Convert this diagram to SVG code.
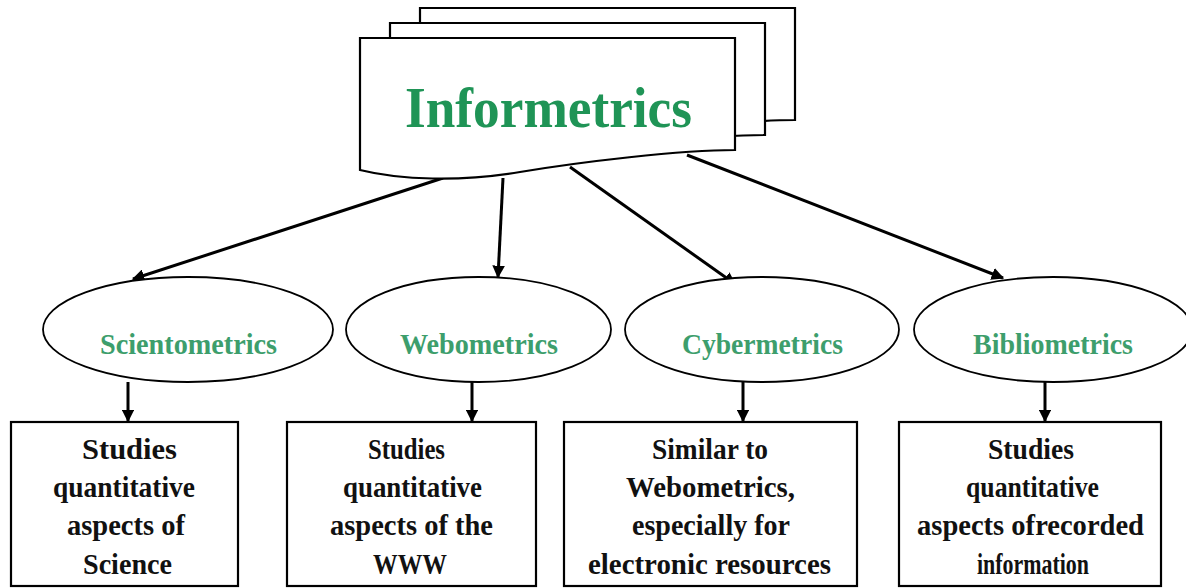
<svg xmlns="http://www.w3.org/2000/svg" width="1186" height="588" viewBox="0 0 1186 588">
<style>
.page{fill:#ffffff;stroke:#000;stroke-width:2.2}
.ell{fill:#ffffff;stroke:#000;stroke-width:1.8}
.box{fill:#ffffff;stroke:#000;stroke-width:2.2}
.lbl{font-family:"Liberation Serif",serif;font-weight:bold;font-size:29px;fill:#3d9e6c;text-anchor:middle}
.main{font-family:"Liberation Serif",serif;font-weight:bold;font-size:57px;fill:#1f9456;text-anchor:middle}
.txt{font-family:"Liberation Serif",serif;font-weight:bold;font-size:29px;fill:#111;text-anchor:middle}
.arr{fill:none;stroke:#000;stroke-width:3;marker-end:url(#ah)}
</style>
<defs>
<marker id="ah" viewBox="0 0 10 10" refX="9" refY="5" markerWidth="4.2" markerHeight="4.2" orient="auto" markerUnits="strokeWidth">
<path d="M0,0 L10,5 L0,10 Z" fill="#000"/>
</marker>
<path id="doc" d="M360,38 H735 V150 C680,150 580,162 520,172 C460,182 400,180 360,170 Z"/>
</defs>
<rect width="1186" height="588" fill="#ffffff"/>

<g id="connectors">
<path class="arr" d="M443,178 L133,279"/>
<path class="arr" d="M503,178 L498,277"/>
<path class="arr" d="M570,167 L735,284"/>
<path class="arr" d="M687,155 L1003,278"/>
<path class="arr" d="M128,382 L128,421"/>
<path class="arr" d="M472,382 L472,421"/>
<path class="arr" d="M743,382 L743,421"/>
<path class="arr" d="M1045,382 L1045,421"/>
</g>

<g id="informetrics">
<use href="#doc" class="page" transform="translate(60,-30)"/>
<use href="#doc" class="page" transform="translate(30,-15)"/>
<use href="#doc" class="page"/>
<text class="main" x="548.5" y="127" textLength="287" lengthAdjust="spacingAndGlyphs">Informetrics</text>
</g>

<g id="scientometrics">
<ellipse class="ell" cx="188" cy="329.5" rx="145" ry="52.5"/>
<text class="lbl" x="188.5" y="354" textLength="177" lengthAdjust="spacingAndGlyphs">Scientometrics</text>
</g>
<g id="webometrics">
<ellipse class="ell" cx="478.5" cy="329.5" rx="132.5" ry="52.5"/>
<text class="lbl" x="479" y="354" textLength="158" lengthAdjust="spacingAndGlyphs">Webometrics</text>
</g>
<g id="cybermetrics">
<ellipse class="ell" cx="762" cy="329.5" rx="137" ry="52.5"/>
<text class="lbl" x="762.5" y="354" textLength="161" lengthAdjust="spacingAndGlyphs">Cybermetrics</text>
</g>
<g id="bibliometrics">
<ellipse class="ell" cx="1053" cy="329.5" rx="139" ry="52.5"/>
<text class="lbl" x="1053" y="354" textLength="160" lengthAdjust="spacingAndGlyphs">Bibliometrics</text>
</g>

<g id="box-science">
<rect class="box" x="11" y="422" width="227" height="164"/>
<text class="txt" x="129.5" y="459" textLength="95" lengthAdjust="spacingAndGlyphs">Studies</text>
<text class="txt" x="124" y="497" textLength="142" lengthAdjust="spacingAndGlyphs">quantitative</text>
<text class="txt" x="126" y="535" textLength="118" lengthAdjust="spacingAndGlyphs">aspects of</text>
<text class="txt" x="127.5" y="574" textLength="89" lengthAdjust="spacingAndGlyphs">Science</text>
</g>
<g id="box-www">
<rect class="box" x="287" y="422" width="249" height="164"/>
<text class="txt" x="406.5" y="459" textLength="77" lengthAdjust="spacingAndGlyphs">Studies</text>
<text class="txt" x="412.5" y="497" textLength="139" lengthAdjust="spacingAndGlyphs">quantitative</text>
<text class="txt" x="411.5" y="535" textLength="163" lengthAdjust="spacingAndGlyphs">aspects of the</text>
<text class="txt" x="410" y="574" textLength="74" lengthAdjust="spacingAndGlyphs">WWW</text>
</g>
<g id="box-electronic">
<rect class="box" x="564" y="422" width="293" height="164"/>
<text class="txt" x="710" y="459" textLength="116" lengthAdjust="spacingAndGlyphs">Similar to</text>
<text class="txt" x="710.5" y="497" textLength="169" lengthAdjust="spacingAndGlyphs">Webometrics,</text>
<text class="txt" x="711" y="535" textLength="158" lengthAdjust="spacingAndGlyphs">especially for</text>
<text class="txt" x="709.5" y="574" textLength="243" lengthAdjust="spacingAndGlyphs">electronic resources</text>
</g>
<g id="box-recorded">
<rect class="box" x="899" y="422" width="262" height="164"/>
<text class="txt" x="1031" y="459" textLength="86" lengthAdjust="spacingAndGlyphs">Studies</text>
<text class="txt" x="1032.5" y="497" textLength="133" lengthAdjust="spacingAndGlyphs">quantitative</text>
<text class="txt" x="1030.5" y="535" textLength="227" lengthAdjust="spacingAndGlyphs">aspects ofrecorded</text>
<text class="txt" x="1033" y="574" textLength="112" lengthAdjust="spacingAndGlyphs">information</text>
</g>
</svg>
